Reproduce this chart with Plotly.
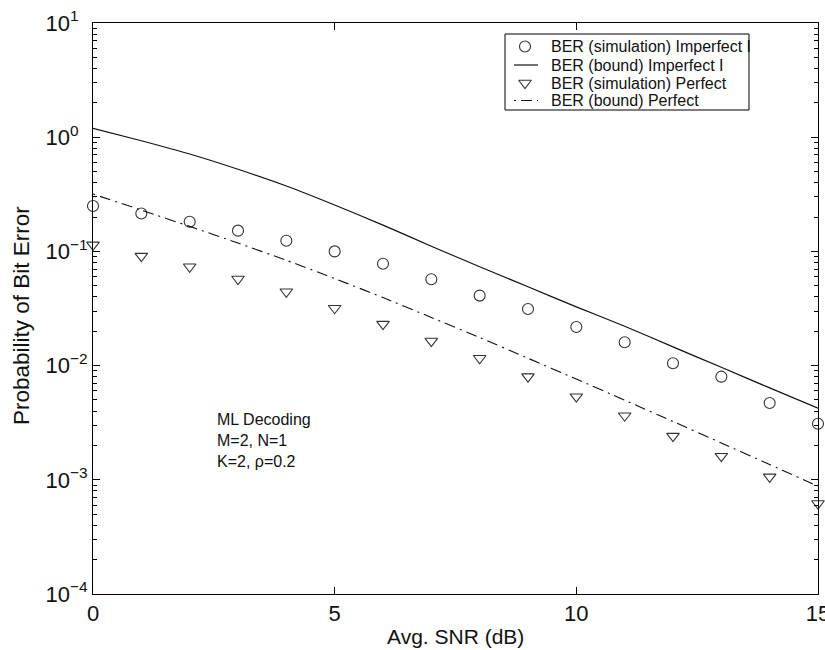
import plotly.graph_objects as go

# Average SNR in dB
snr_db = list(range(0, 16))

# Simulated bit error rate, imperfect channel knowledge
ber_sim_imperfect = [0.25, 0.215, 0.182, 0.152, 0.124, 0.100, 0.078, 0.057,
                     0.041, 0.0313, 0.0218, 0.016, 0.0105, 0.0080, 0.0047, 0.0031]
# Analytical bound, imperfect channel knowledge
ber_bound_imperfect = [1.197, 0.931, 0.713, 0.524, 0.374, 0.255, 0.170, 0.111,
                       0.0734, 0.049, 0.0327, 0.0221, 0.0146, 0.00966, 0.00638, 0.00423]
# Simulated bit error rate, perfect channel knowledge
ber_sim_perfect = [0.114, 0.091, 0.0734, 0.0573, 0.0443, 0.0318, 0.0231, 0.0164,
                   0.0116, 0.0080, 0.00534, 0.00364, 0.00241, 0.00161, 0.00106, 0.00062]
# Analytical bound, perfect channel knowledge
ber_bound_perfect = [0.318, 0.230, 0.1656, 0.1183, 0.0836, 0.0579, 0.0394, 0.0264,
                     0.0176, 0.0116, 0.00762, 0.00498, 0.00324, 0.0021, 0.00136, 0.00088]

series_names = ["BER (simulation) Imperfect I", "BER (bound) Imperfect I",
                "BER (simulation) Perfect", "BER (bound) Perfect"]

x_tick_vals = [0, 5, 10, 15]
y_exponents = [-4, -3, -2, -1, 0, 1]
y_minor_vals = [k * 10.0 ** e for e in range(-4, 1) for k in range(2, 10)]

note_lines = ["ML Decoding", "M=2, N=1", "K=2, \u03c1=0.2"]
x_title = "Avg. SNR (dB)"
y_title = "Probability of Bit Error"

FONT = "Liberation Sans, Arial, Helvetica, sans-serif"
INK = "#111111"
MARK = "#333333"
DASHDOT = "2px,5px,11px,5px"

# figure geometry (pixels)
W, H = 825, 650
L, R, T, B = 93, 818, 23, 594


def power_label(e):
    # base "10" kept aligned: positive exponents get an invisible minus as padding
    if e < 0:
        return "10<sup>\u2212%d</sup>" % (-e)
    return "10<sup>%d<span style='color:rgba(0,0,0,0)'>\u2212</span></sup>" % e


y_tick_vals = [10.0 ** e for e in y_exponents]
y_tick_text = [power_label(e) for e in y_exponents]

circle = dict(symbol="circle-open", size=11, color=MARK, line=dict(width=1.1, color=MARK))
tri = dict(symbol="triangle-down-open", size=11, color=MARK, line=dict(width=1.1, color=MARK))

fig = go.Figure()

fig.add_trace(go.Scatter(x=snr_db, y=ber_sim_imperfect, name=series_names[0], mode="markers",
                         marker=circle, cliponaxis=False))
fig.add_trace(go.Scatter(x=snr_db, y=ber_bound_imperfect, name=series_names[1], mode="lines",
                         line=dict(color=INK, width=1.2, shape="spline", smoothing=0.6)))
fig.add_trace(go.Scatter(x=snr_db, y=ber_sim_perfect, name=series_names[2], mode="markers",
                         marker=tri, cliponaxis=False))
fig.add_trace(go.Scatter(x=snr_db, y=ber_bound_perfect, name=series_names[3], mode="lines",
                         line=dict(color=INK, width=1.1, dash=DASHDOT, shape="spline", smoothing=0.6)))

# Legend drawn on a pixel-scaled overlay so it can sit in a tight boxed layout
leg_box = (505, 34, 749, 110)
leg_rows = [46.5, 65.0, 83.0, 100.5]
leg_key_x = (514, 525, 538)
leg_text_x = 549

fig.add_shape(type="rect", xref="x2", yref="y2", x0=leg_box[0], y0=leg_box[1],
              x1=leg_box[2], y1=leg_box[3], line=dict(color="black", width=1),
              fillcolor="white", layer="below")
fig.add_trace(go.Scatter(x=[leg_key_x[1]], y=[leg_rows[0]], mode="markers", marker=circle,
                         xaxis="x2", yaxis="y2", showlegend=False, hoverinfo="skip"))
fig.add_trace(go.Scatter(x=[leg_key_x[0], leg_key_x[2]], y=[leg_rows[1]] * 2, mode="lines",
                         line=dict(color=INK, width=1.2),
                         xaxis="x2", yaxis="y2", showlegend=False, hoverinfo="skip"))
fig.add_trace(go.Scatter(x=[leg_key_x[1]], y=[leg_rows[2]], mode="markers", marker=tri,
                         xaxis="x2", yaxis="y2", showlegend=False, hoverinfo="skip"))
fig.add_trace(go.Scatter(x=[leg_key_x[0], leg_key_x[2]], y=[leg_rows[3]] * 2, mode="lines",
                         line=dict(color=INK, width=1.1, dash=DASHDOT),
                         xaxis="x2", yaxis="y2", showlegend=False, hoverinfo="skip"))
for name, row in zip(series_names, leg_rows):
    fig.add_annotation(xref="x2", yref="y2", x=leg_text_x, y=row, text=name,
                       xanchor="left", yanchor="middle", showarrow=False,
                       font=dict(family=FONT, size=16, color=INK))

# Text note inside the plot
fig.add_annotation(
    xref="x2", yref="y2", x=215, y=440,
    xanchor="left", yanchor="middle", align="left", showarrow=False,
    text="<br>".join(note_lines),
    font=dict(family=FONT, size=16, color=INK),
)

# Axis titles
fig.add_annotation(xref="paper", yref="paper", x=0.5, y=(B - 636) / (B - T),
                   xanchor="center", yanchor="middle", showarrow=False, text=x_title,
                   font=dict(family=FONT, size=21, color=INK))
fig.add_annotation(xref="paper", yref="paper", x=(21 - L) / (R - L), y=(B - 316) / (B - T),
                   textangle=-90, xanchor="center", yanchor="middle", showarrow=False,
                   text=y_title, font=dict(family=FONT, size=22.5, color=INK))

axis_common = dict(
    showline=True, linecolor="black", linewidth=1, mirror="ticks",
    ticks="inside", ticklen=7, tickcolor="black", tickwidth=1,
    showgrid=False, zeroline=False, automargin=False,
)

fig.update_layout(
    xaxis=dict(range=[0, 15], tickmode="array", tickvals=x_tick_vals,
               tickfont=dict(family=FONT, size=22, color=INK),
               ticklabelstandoff=0, ticklabeloverflow="allow", **axis_common),
    yaxis=dict(type="log", range=[-4, 1], tickmode="array", tickvals=y_tick_vals,
               ticktext=y_tick_text, tickfont=dict(family=FONT, size=22, color=INK),
               minor=dict(tickmode="array", tickvals=y_minor_vals, ticks="inside", ticklen=4,
                          tickcolor="black", tickwidth=1, showgrid=False),
               ticklabelstandoff=0, ticklabeloverflow="allow", **axis_common),
    xaxis2=dict(overlaying="x", range=[L, R], visible=False, automargin=False),
    yaxis2=dict(overlaying="y", range=[B, T], visible=False, automargin=False),
    width=W, height=H,
    margin=dict(l=L, r=W - R, t=T, b=H - B),
    paper_bgcolor="white", plot_bgcolor="white",
    font=dict(family=FONT, color=INK),
    showlegend=False,
)

fig.write_html("out.html")
